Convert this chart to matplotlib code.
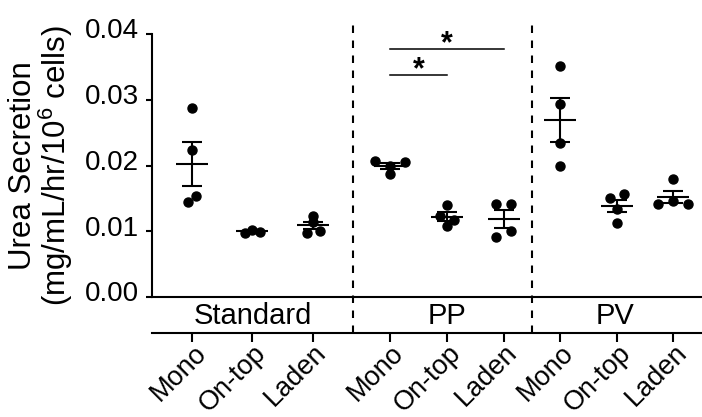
import matplotlib
matplotlib.use("Agg")
import matplotlib.pyplot as plt
import matplotlib.transforms as mtransforms
import numpy as np

# urea secretion per replicate (mg/mL/hr/10^6 cells)
std_mono = [0.0288, 0.0223, 0.0145, 0.0154]
std_ontop = [0.0098, 0.0102, 0.0099]
std_laden = [0.0123, 0.0098, 0.0114, 0.0101]
pp_mono = [0.0207, 0.0205, 0.0187, 0.0200]
pp_ontop = [0.0140, 0.0123, 0.0117, 0.0108]
pp_laden = [0.0142, 0.0142, 0.0100, 0.0092]
pv_mono = [0.0352, 0.0293, 0.0234, 0.0200]
pv_ontop = [0.0150, 0.0156, 0.0134, 0.0113]
pv_laden = [0.0179, 0.0141, 0.0142, 0.0146]

groups = ["Standard", "PP", "PV"]
conditions = ["Mono", "On-top", "Laden"]
series = [std_mono, std_ontop, std_laden,
          pp_mono, pp_ontop, pp_laden,
          pv_mono, pv_ontop, pv_laden]

# layout (x in pixel-like units of the axes)
xpos = [192.3, 252.3, 312.7, 390, 447, 503.5, 560, 616.7, 673.3]
jitter = [[0, 0, -4, 4], [-7.5, 0, 7.5], [0, -6, 0, 7],
          [-15, 15, 0, 0], [0, -7, 7, 0], [-7.5, 7.5, 7.5, -7.5],
          [0, 0, 0, 0], [-7, 7, 0, 0], [0, -15, 15, 0]]
group_centers = [252.5, 447, 615.5]
dividers = [352.5, 532.3]

plt.rcParams["font.family"] = ["Liberation Sans", "DejaVu Sans"]
plt.rcParams["mathtext.fontset"] = "custom"
plt.rcParams["mathtext.rm"] = "Liberation Sans"
plt.rcParams["mathtext.it"] = "Liberation Sans:italic"

fig = plt.figure(figsize=(7.02, 4.17), dpi=100)
ax = fig.add_axes([152 / 702, 1 - 297 / 417, 550 / 702, 263 / 417])

for i, vals in enumerate(series):
    vals = np.array(vals)
    xs = xpos[i] + np.array(jitter[i])
    ax.plot(xs, vals, "o", color="black", ms=6.5, zorder=3, clip_on=False)
    m = vals.mean()
    sem = vals.std(ddof=1) / np.sqrt(len(vals))
    ax.hlines(m, xpos[i] - 16, xpos[i] + 16, color="black", lw=1.5, zorder=4)
    ax.errorbar(xpos[i], m, yerr=sem, fmt="none", ecolor="black",
                elinewidth=1.5, capsize=7, capthick=1.5, zorder=4)

# significance bars
ax.plot([390, 504], [0.0377, 0.0377], color="black", lw=1.1, clip_on=False)
ax.plot([390, 447], [0.0338, 0.0338], color="black", lw=1.1, clip_on=False)
ax.text(447, 0.0372, "*", ha="center", va="baseline", fontsize=22, fontweight="bold")
ax.text(419, 0.0333, "*", ha="center", va="baseline", fontsize=22, fontweight="bold")

# group dividers
sec_loc = -(332.7 - 297) / 263
for d in dividers:
    ax.axvline(d, ymin=sec_loc, ymax=1.04, color="black", lw=1.5,
               ls=(0, (3.6, 3.6)), clip_on=False)

ax.set_xlim(152, 702)
ax.set_ylim(0, 0.04)
ax.set_yticks([0, 0.01, 0.02, 0.03, 0.04])
ax.set_yticklabels(["0.00", "0.01", "0.02", "0.03", "0.04"])
ax.set_xticks([])
for s in ["top", "right"]:
    ax.spines[s].set_visible(False)
for s in ["left", "bottom"]:
    ax.spines[s].set_linewidth(1.5)
ax.tick_params(axis="y", length=4.3, width=1.5, labelsize=20, pad=4.8)
up = mtransforms.ScaledTranslation(0, 4 / 72, fig.dpi_scale_trans)
for lab in ax.get_yticklabels():
    lab.set_transform(lab.get_transform() + up)

ax.set_ylabel("Urea Secretion\n(mg/mL/hr/10$^{6}$ cells)", fontsize=22.5, linespacing=0.95)
ax.yaxis.set_label_coords(-0.14, 0.5)

# group names between the two axis lines
trans = mtransforms.blended_transform_factory(ax.transData, ax.transAxes)
for c, g in zip(group_centers, groups):
    ax.text(c, -(324.3 - 297) / 263, g, transform=trans, ha="center",
            va="baseline", fontsize=21)

# second axis line with condition labels
sec = ax.secondary_xaxis(sec_loc)
sec.spines["bottom"].set_linewidth(1.5)
sec.set_xticks(xpos)
sec.set_xticklabels(conditions * 3, rotation=45, ha="right",
                    rotation_mode="anchor", fontsize=19.5)
sec.tick_params(axis="x", length=6.5, width=1.5, pad=0)
shift = mtransforms.ScaledTranslation(0.5 / 72, 1.5 / 72, fig.dpi_scale_trans)
for lab in sec.get_xticklabels():
    lab.set_transform(lab.get_transform() + shift)

fig.savefig("out.png", dpi=100)
